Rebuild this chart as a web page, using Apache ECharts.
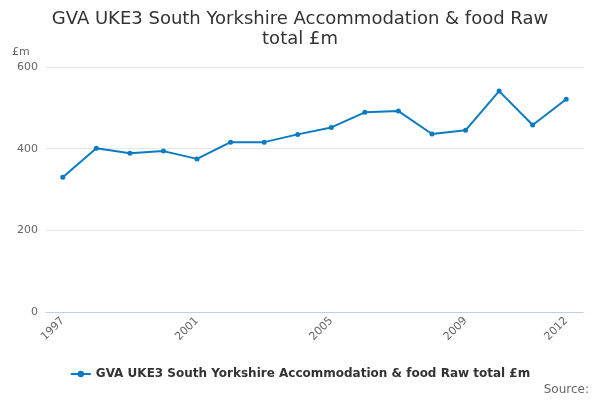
<!DOCTYPE html>
<html>
<head>
<meta charset="utf-8">
<script src="https://cdn.jsdelivr.net/npm/echarts@6/dist/echarts.min.js"></script>
<style>html,body{margin:0;padding:0;background:#fff}#c{width:600px;height:400px}</style>
</head>
<body>
<div id="c"></div>
<script>
const categories = ['1997','1998','1999','2000','2001','2002','2003','2004','2005','2006','2007','2008','2009','2010','2011','2012'];
const values = [330, 401, 389, 394, 375, 416, 416, 435, 452, 489, 492, 436, 445, 541, 458, 521];
const yTicks = [0, 200, 400, 600];
const shownLabels = ['1997','2001','2005','2009','2012'];
const seriesName = 'GVA UKE3 South Yorkshire Accommodation & food Raw total £m';

const chart = echarts.init(document.getElementById('c'), null, {renderer: 'canvas'});
const font = 'DejaVu Sans';
chart.setOption({
  animation: false,
  backgroundColor: '#fff',
  textStyle: {fontFamily: font},
  title: {
    text: 'GVA UKE3 South Yorkshire Accommodation & food Raw\ntotal £m',
    left: 'center', top: 4,
    textStyle: {fontFamily: font, fontSize: 18, fontWeight: 'normal', color: '#333', lineHeight: 20}
  },
  graphic: [
    {type: 'text', left: 12, top: 47, style: {text: '£m', font: '11px DejaVu Sans', fill: '#666'}},
    {type: 'text', right: 11, top: 384, style: {text: 'Source:', font: '12px DejaVu Sans', fill: '#666'}}
  ],
  legend: {
    bottom: 15, left: 'center',
    itemWidth: 20, itemHeight: 8, itemGap: 10,
    textStyle: {fontFamily: font, fontSize: 12, fontWeight: 'bold', color: '#333'},
    data: [seriesName]
  },
  grid: {left: 46, right: 17, top: 67, bottom: 88, containLabel: false},
  xAxis: {
    type: 'category',
    data: categories,
    boundaryGap: true,
    axisLine: {lineStyle: {color: '#c0d0e0'}},
    axisTick: {alignWithLabel: true, interval: 0, length: 9, lineStyle: {color: '#c0d0e0'}},
    axisLabel: {
      interval: function (i, v) { return shownLabels.indexOf(v) >= 0; },
      rotate: 45, color: '#666', fontSize: 11, fontFamily: font, margin: 7
    }
  },
  yAxis: {
    type: 'value',
    min: yTicks[0], max: yTicks[yTicks.length - 1], interval: 200,
    axisLine: {show: false}, axisTick: {show: false},
    splitLine: {lineStyle: {color: '#e6e6e6'}},
    axisLabel: {color: '#666', fontSize: 11, fontFamily: font, margin: 8}
  },
  series: [{
    name: seriesName,
    type: 'line',
    data: values,
    color: '#0a7bc1',
    lineStyle: {width: 2, color: '#0a7bc1'},
    symbol: 'circle', symbolSize: 5,
    itemStyle: {color: '#0a7bc1'}
  }]
});
</script>
</body>
</html>
